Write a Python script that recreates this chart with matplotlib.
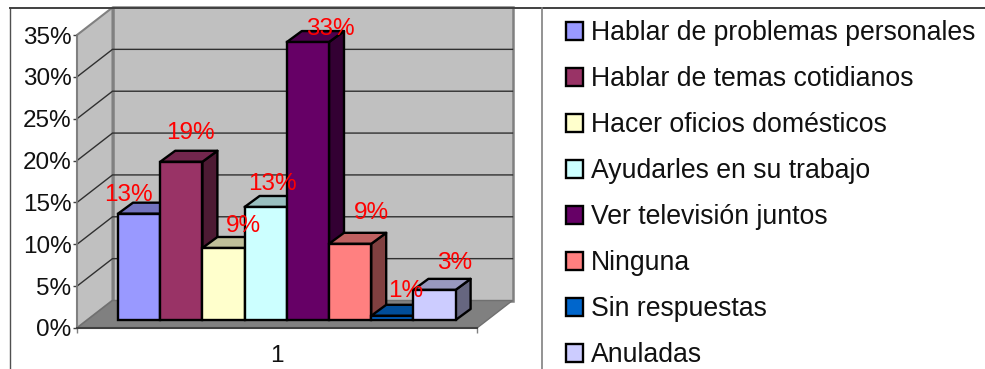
import matplotlib
matplotlib.use("Agg")
import matplotlib.pyplot as plt
from matplotlib.patches import Polygon, Patch
from matplotlib.lines import Line2D
from matplotlib.colors import to_rgb

plt.rcParams['font.family'] = ['Liberation Sans', 'DejaVu Sans']

categories = ["Hablar de problemas personales", "Hablar de temas cotidianos",
              "Hacer oficios domésticos", "Ayudarles en su trabajo",
              "Ver televisión juntos", "Ninguna", "Sin respuestas", "Anuladas"]
values = [12.7, 18.9, 8.6, 13.5, 33.2, 9.1, 0.5, 3.6]
labels = ["13%", "19%", "9%", "13%", "33%", "9%", "1%", "3%"]
colors = ["#9999FF", "#993366", "#FFFFCC", "#CCFFFF", "#660066", "#FF8080", "#0066CC", "#CCCCFF"]
yticks = [0, 5, 10, 15, 20, 25, 30, 35]
label_offsets = [(-11, 19), (9, 29), (20, 22), (7, 23), (22, 13), (21, 31), (13, 25), (20, 27)]

W, H = 985, 369
DPI = 100
fig = plt.figure(figsize=(W / DPI, H / DPI), dpi=DPI, facecolor="white")

# pixel layout of the front plane
L, R, B, T = 77, 477, 328, 35
ax = fig.add_axes([L / W, 1 - B / H, (R - L) / W, (B - T) / H])
ax.set_xlim(0, 1)
ax.set_ylim(0, 35)
ax.patch.set_visible(False)
sx = 1 / (R - L)
sy = 35 / (B - T)


def P(x, y, dx=0, dy=0):
    """data point shifted by a pixel offset (dy up)"""
    return (x + dx * sx, y + dy * sy)


DX, DY = 35.5, 27.5  # wall depth
wall = "#C0C0C0"
edge = "#808080"
ax.add_patch(Polygon([P(0, 0), P(0, 35), P(0, 35, DX, DY), P(0, 0, DX, DY)],
                     fc=wall, ec=edge, lw=1.5, clip_on=False, zorder=1))
ax.add_patch(Polygon([P(0, 0, DX, DY), P(0, 35, DX, DY), P(1, 35, DX, DY), P(1, 0, DX, DY)],
                     fc=wall, ec=edge, lw=1.8, clip_on=False, zorder=1))
ax.add_patch(Polygon([P(0, 0), P(0, 0, DX, DY), P(1, 0, DX, DY), P(1, 0)],
                     fc="#808080", ec="#707070", lw=1, clip_on=False, zorder=1.1))
for v in yticks[1:-1]:
    a, b, c = P(0, v), P(0, v, DX, DY), P(1, v, DX, DY)
    ax.plot([a[0], b[0], c[0]], [a[1], b[1], c[1]], color="#303030", lw=1,
            clip_on=False, zorder=1.2, solid_joinstyle="miter")

# bars
bw = 42.2 * sx
x0 = (118 - L) * sx
base = 8 * sy
ddx, ddy = 15, 11
LW = 1.7
for i, (v, col) in enumerate(zip(values, colors)):
    x = x0 + i * bw
    z = 3 + i * 0.1
    rgb = to_rgb(col)
    top = tuple(c * 0.75 for c in rgb)
    side = tuple(c * 0.5 for c in rgb)
    ax.add_patch(Polygon([P(x + bw, base), P(x + bw, base + v), P(x + bw, base + v, ddx, ddy), P(x + bw, base, ddx, ddy)],
                         fc=side, ec="black", lw=LW, clip_on=False, zorder=z, joinstyle="round"))
    ax.add_patch(Polygon([P(x, base + v), P(x + bw, base + v), P(x + bw, base + v, ddx, ddy), P(x, base + v, ddx, ddy)],
                         fc=top, ec="black", lw=LW, clip_on=False, zorder=z, joinstyle="round"))
    ax.bar(x, v, width=bw, bottom=base, align="edge", color=col, edgecolor="black",
           linewidth=LW, clip_on=False, zorder=z + 0.01)
    off = label_offsets[i]
    ax.annotate(labels[i], xy=(x + bw / 2, base + v), xytext=(off[0] * 72 / DPI, off[1] * 72 / DPI),
                textcoords="offset points", ha="center", va="center", color="#FF0000",
                fontsize=17.5, zorder=10, annotation_clip=False)

# axes
for s in ("top", "right"):
    ax.spines[s].set_visible(False)
ax.spines["left"].set_color("#808080")
ax.spines["left"].set_linewidth(1.2)
ax.spines["bottom"].set_color("#404040")
ax.spines["bottom"].set_linewidth(1.5)
ax.set_yticks(yticks)
ax.set_yticklabels([f"{v}%" for v in yticks], fontsize=17.5, color="#111111")
ax.tick_params(axis="y", length=3, width=1, color="#404040", pad=1)
ax.set_xticks([0, 1])
ax.set_xticklabels(["", ""])
ax.tick_params(axis="x", length=3.5, width=1, color="#808080")
ax.set_xticks([0.5], minor=True)
ax.set_xticklabels(["1"], minor=True, fontsize=17.5, color="#111111")
ax.tick_params(axis="x", which="minor", length=0, pad=12)

# outer frame
fig.add_artist(Line2D([10 / W, 10 / W], [0, 1 - 8 / H], color="#505050", lw=1))
fig.add_artist(Line2D([10 / W, 1], [1 - 8 / H, 1 - 8 / H], color="#404040", lw=1.4))
fig.add_artist(Line2D([542 / W, 542 / W], [0, 1 - 8 / H], color="#808080", lw=1.2))

# legend
handles = [Patch(facecolor=c, edgecolor="black", linewidth=LW) for c in colors]
leg = fig.legend(handles, categories, loc="upper left", bbox_to_anchor=(566 / W, 1 - 20.5 / H),
                 bbox_transform=fig.transFigure, frameon=False, fontsize=19.2, borderpad=0,
                 borderaxespad=0, handlelength=0.62, handleheight=0.62, handletextpad=0.3,
                 labelspacing=0.75, labelcolor="#111111")

fig.savefig("out.png", dpi=DPI, facecolor="white")
